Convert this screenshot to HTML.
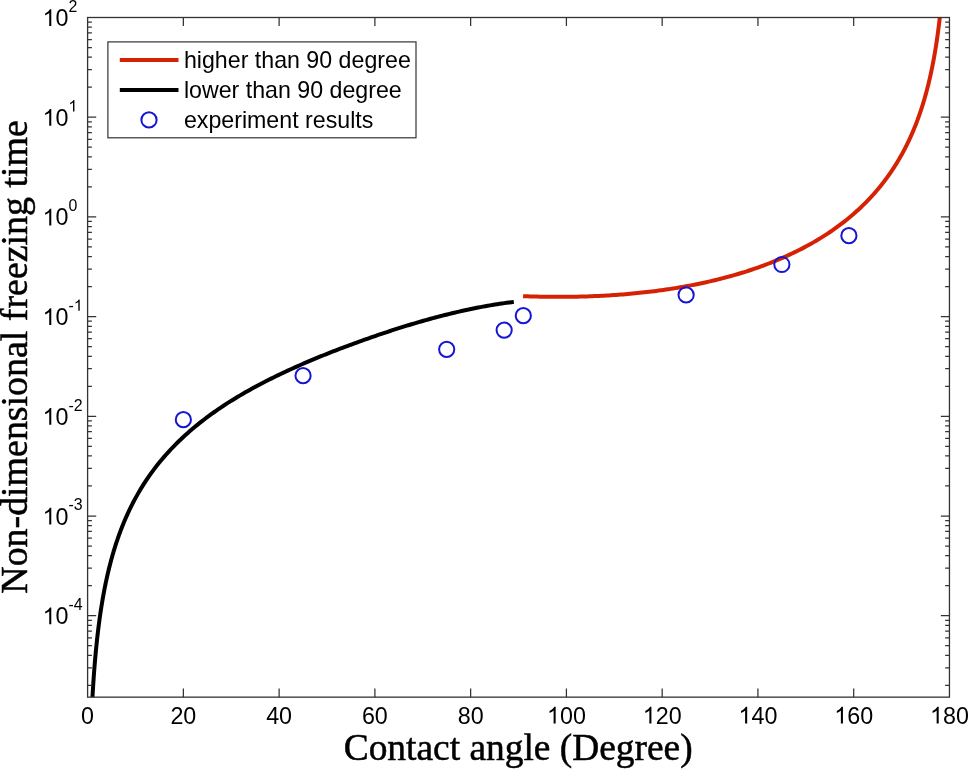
<!DOCTYPE html>
<html><head><meta charset="utf-8"><title>Freezing time vs contact angle</title>
<style>html,body{margin:0;padding:0;background:#fff;overflow:hidden}svg{display:block;will-change:transform}</style></head>
<body>
<svg width="968" height="769" viewBox="0 0 968 769">
<rect width="968" height="769" fill="#fff"/>
<defs><clipPath id="c"><rect x="87.60" y="17.50" width="861.85" height="679.65"/></clipPath>
</defs>
<g clip-path="url(#c)" fill="none" stroke-linejoin="round">
<path d="M523.07,296.13 L525.45,296.22 L527.83,296.31 L530.21,296.38 L532.59,296.46 L534.97,296.52 L537.35,296.58 L539.73,296.64 L542.11,296.68 L544.49,296.72 L546.87,296.76 L549.25,296.79 L551.63,296.81 L554.01,296.83 L556.39,296.84 L558.77,296.85 L561.15,296.84 L563.53,296.83 L565.91,296.82 L568.29,296.80 L570.66,296.77 L573.04,296.74 L575.42,296.70 L577.80,296.65 L580.18,296.59 L582.56,296.53 L584.94,296.46 L587.32,296.39 L589.70,296.31 L592.08,296.22 L594.46,296.12 L596.84,296.02 L599.22,295.90 L601.60,295.79 L603.98,295.66 L606.36,295.53 L608.74,295.39 L611.12,295.24 L613.50,295.08 L615.88,294.92 L618.26,294.75 L620.64,294.57 L623.02,294.39 L625.40,294.19 L627.77,293.99 L630.15,293.78 L632.53,293.56 L634.91,293.33 L637.29,293.10 L639.67,292.85 L642.05,292.60 L644.43,292.34 L646.81,292.07 L649.19,291.79 L651.57,291.50 L653.95,291.21 L656.33,290.90 L658.71,290.58 L661.09,290.26 L663.47,289.93 L665.85,289.58 L668.23,289.23 L670.61,288.87 L672.99,288.50 L675.37,288.11 L677.75,287.72 L680.13,287.32 L682.50,286.91 L684.88,286.48 L687.26,286.05 L689.64,285.61 L692.02,285.15 L694.40,284.68 L696.78,284.21 L699.16,283.72 L701.54,283.22 L703.92,282.71 L706.30,282.18 L708.68,281.65 L711.06,281.10 L713.44,280.54 L715.82,279.97 L718.20,279.38 L720.58,278.78 L722.96,278.17 L725.34,277.55 L727.72,276.91 L730.10,276.26 L732.48,275.59 L734.86,274.91 L737.23,274.22 L739.61,273.51 L741.99,272.78 L744.37,272.04 L746.75,271.29 L749.13,270.52 L751.51,269.73 L753.89,268.93 L756.27,268.11 L758.65,267.27 L761.03,266.42 L763.41,265.55 L765.79,264.66 L768.17,263.75 L770.55,262.82 L772.93,261.88 L775.31,260.91 L777.69,259.93 L780.07,258.92 L782.45,257.89 L784.83,256.84 L787.21,255.77 L789.59,254.68 L791.96,253.56 L794.34,252.42 L796.72,251.26 L799.10,250.07 L801.48,248.86 L803.86,247.61 L806.24,246.35 L808.62,245.05 L811.00,243.72 L813.38,242.37 L815.76,240.98 L818.14,239.57 L820.52,238.12 L822.90,236.64 L825.28,235.12 L827.66,233.57 L830.04,231.98 L832.42,230.35 L834.80,228.68 L837.18,226.97 L839.56,225.22 L841.94,223.43 L844.32,221.58 L846.69,219.69 L849.07,217.75 L851.45,215.76 L853.83,213.71 L856.21,211.61 L858.59,209.44 L860.97,207.22 L863.35,204.92 L865.73,202.56 L868.11,200.12 L870.49,197.61 L872.87,195.01 L875.25,192.33 L877.63,189.56 L877.92,189.21 L878.21,188.86 L878.50,188.52 L878.79,188.17 L879.08,187.81 L879.37,187.46 L879.66,187.11 L879.96,186.75 L880.25,186.39 L880.54,186.03 L880.83,185.67 L881.12,185.31 L881.41,184.95 L881.70,184.58 L881.99,184.21 L882.28,183.84 L882.57,183.47 L882.86,183.10 L883.15,182.73 L883.44,182.35 L883.74,181.97 L884.03,181.59 L884.32,181.21 L884.61,180.83 L884.90,180.45 L885.19,180.06 L885.48,179.67 L885.77,179.28 L886.06,178.89 L886.35,178.50 L886.64,178.10 L886.93,177.70 L887.22,177.30 L887.52,176.90 L887.81,176.50 L888.10,176.10 L888.39,175.69 L888.68,175.28 L888.97,174.87 L889.26,174.46 L889.55,174.04 L889.84,173.62 L890.13,173.20 L890.42,172.78 L890.71,172.36 L891.01,171.93 L891.30,171.51 L891.59,171.08 L891.88,170.64 L892.17,170.21 L892.46,169.77 L892.75,169.33 L893.04,168.89 L893.33,168.45 L893.62,168.00 L893.91,167.55 L894.20,167.10 L894.49,166.65 L894.79,166.20 L895.08,165.74 L895.37,165.28 L895.66,164.81 L895.95,164.35 L896.24,163.88 L896.53,163.41 L896.82,162.94 L897.11,162.46 L897.40,161.98 L897.69,161.50 L897.98,161.02 L898.27,160.53 L898.57,160.04 L898.86,159.55 L899.15,159.05 L899.44,158.55 L899.73,158.05 L900.02,157.55 L900.31,157.04 L900.60,156.53 L900.89,156.02 L901.18,155.50 L901.47,154.98 L901.76,154.46 L902.05,153.93 L902.35,153.40 L902.64,152.87 L902.93,152.33 L903.22,151.79 L903.51,151.25 L903.80,150.71 L904.09,150.16 L904.38,149.60 L904.67,149.05 L904.96,148.49 L905.25,147.92 L905.54,147.35 L905.83,146.78 L906.13,146.21 L906.42,145.63 L906.71,145.04 L907.00,144.46 L907.29,143.87 L907.58,143.27 L907.87,142.67 L908.16,142.07 L908.45,141.46 L908.74,140.85 L909.03,140.23 L909.32,139.61 L909.62,138.98 L909.91,138.35 L910.20,137.72 L910.49,137.08 L910.78,136.43 L911.07,135.78 L911.36,135.13 L911.65,134.47 L911.94,133.81 L912.23,133.14 L912.52,132.46 L912.81,131.78 L913.10,131.10 L913.40,130.41 L913.69,129.71 L913.98,129.01 L914.27,128.30 L914.56,127.59 L914.85,126.87 L915.14,126.14 L915.43,125.41 L915.72,124.67 L916.01,123.93 L916.30,123.17 L916.59,122.42 L916.88,121.65 L917.18,120.88 L917.47,120.10 L917.76,119.32 L918.05,118.53 L918.34,117.73 L918.63,116.92 L918.92,116.11 L919.21,115.28 L919.50,114.45 L919.79,113.61 L920.08,112.77 L920.37,111.91 L920.66,111.05 L920.96,110.18 L921.25,109.30 L921.54,108.41 L921.83,107.51 L922.12,106.60 L922.41,105.68 L922.70,104.75 L922.99,103.81 L923.28,102.87 L923.57,101.91 L923.86,100.94 L924.15,99.96 L924.44,98.96 L924.74,97.96 L925.03,96.94 L925.32,95.92 L925.61,94.88 L925.90,93.82 L926.19,92.76 L926.48,91.68 L926.77,90.59 L927.06,89.48 L927.35,88.36 L927.64,87.23 L927.93,86.07 L928.23,84.91 L928.52,83.73 L928.81,82.53 L929.10,81.31 L929.39,80.08 L929.68,78.83 L929.97,77.56 L930.26,76.27 L930.55,74.96 L930.84,73.64 L931.13,72.29 L931.42,70.92 L931.71,69.53 L932.01,68.11 L932.30,66.67 L932.59,65.21 L932.88,63.72 L933.17,62.21 L933.46,60.67 L933.75,59.10 L934.04,57.50 L934.33,55.87 L934.62,54.21 L934.91,52.52 L935.20,50.79 L935.49,49.03 L935.79,47.23 L936.08,45.39 L936.37,43.51 L936.66,41.59 L936.95,39.63 L937.24,37.62 L937.53,35.56 L937.82,33.45 L938.11,31.29 L938.40,29.07 L938.69,26.80 L938.98,24.46 L939.27,22.04 L939.57,19.53 L939.86,16.95 L940.15,14.28 L940.44,11.53 L940.73,8.69 L941.02,5.75 L941.31,2.71" stroke="#d62204" stroke-width="4"/>
<path d="M90.47,742.79 L90.80,733.54 L91.12,725.18 L91.44,717.57 L91.77,710.56 L92.09,704.08 L92.42,698.06 L92.74,692.42 L93.06,687.12 L93.39,682.13 L93.71,677.41 L94.03,672.94 L94.36,668.68 L94.68,664.62 L95.01,660.75 L95.33,657.04 L95.65,653.48 L95.98,650.06 L96.30,646.77 L96.62,643.60 L96.95,640.54 L97.27,637.58 L97.60,634.73 L97.92,631.96 L98.24,629.28 L98.57,626.68 L98.89,624.15 L99.22,621.69 L99.54,619.31 L99.86,616.98 L100.19,614.72 L100.51,612.51 L100.83,610.36 L101.16,608.26 L101.48,606.21 L101.81,604.20 L102.13,602.24 L102.45,600.33 L102.78,598.45 L103.10,596.62 L103.42,594.82 L103.75,593.06 L104.07,591.33 L104.40,589.64 L104.72,587.98 L105.04,586.34 L105.37,584.74 L105.69,583.17 L106.02,581.63 L106.34,580.11 L106.66,578.62 L106.99,577.15 L107.31,575.71 L107.63,574.29 L107.96,572.89 L108.28,571.52 L108.61,570.17 L108.93,568.83 L109.25,567.52 L109.58,566.23 L109.90,564.95 L110.22,563.70 L110.55,562.46 L110.87,561.24 L111.20,560.03 L111.52,558.84 L111.84,557.67 L112.17,556.51 L112.49,555.37 L112.81,554.24 L113.14,553.13 L113.46,552.03 L113.79,550.94 L114.11,549.87 L114.43,548.81 L114.76,547.77 L115.08,546.73 L115.41,545.71 L115.73,544.70 L116.05,543.70 L116.38,542.71 L116.70,541.73 L117.02,540.76 L117.35,539.81 L117.67,538.86 L118.00,537.93 L118.32,537.00 L118.64,536.08 L118.97,535.18 L119.29,534.28 L119.61,533.39 L119.94,532.51 L120.26,531.64 L120.59,530.78 L120.91,529.92 L121.23,529.08 L121.56,528.24 L121.88,527.41 L122.20,526.59 L122.53,525.77 L122.85,524.96 L123.18,524.16 L123.50,523.37 L123.82,522.58 L124.15,521.80 L124.47,521.03 L124.80,520.27 L125.12,519.51 L125.44,518.76 L125.77,518.01 L126.09,517.27 L126.41,516.54 L126.74,515.81 L127.06,515.09 L127.39,514.37 L127.71,513.66 L128.03,512.95 L128.36,512.26 L128.68,511.56 L129.00,510.87 L129.33,510.19 L129.65,509.51 L129.98,508.84 L130.30,508.17 L130.62,507.51 L130.95,506.85 L131.27,506.20 L131.59,505.55 L131.92,504.91 L132.24,504.27 L132.57,503.63 L132.89,503.01 L133.21,502.38 L133.54,501.76 L133.86,501.14 L134.19,500.53 L134.51,499.92 L134.83,499.32 L135.16,498.72 L135.48,498.12 L137.86,493.86 L140.24,489.79 L142.62,485.91 L145.00,482.18 L147.38,478.60 L149.76,475.16 L152.14,471.85 L154.52,468.66 L156.90,465.57 L159.28,462.59 L161.66,459.71 L164.04,456.91 L166.42,454.20 L168.79,451.57 L171.17,449.01 L173.55,446.53 L175.93,444.11 L178.31,441.75 L180.69,439.45 L183.07,437.22 L185.45,435.03 L187.83,432.90 L190.21,430.82 L192.59,428.78 L194.97,426.79 L197.35,424.84 L199.73,422.93 L202.11,421.06 L204.49,419.23 L206.87,417.44 L209.25,415.67 L211.63,413.95 L214.01,412.25 L216.39,410.58 L218.77,408.95 L221.15,407.34 L223.52,405.76 L225.90,404.20 L228.28,402.67 L230.66,401.17 L233.04,399.69 L235.42,398.23 L237.80,396.79 L240.18,395.38 L242.56,393.98 L244.94,392.60 L247.32,391.25 L249.70,389.91 L252.08,388.59 L254.46,387.29 L256.84,386.00 L259.22,384.73 L261.60,383.48 L263.98,382.24 L266.36,381.02 L268.74,379.81 L271.12,378.62 L273.50,377.44 L275.88,376.27 L278.25,375.12 L280.63,373.97 L283.01,372.85 L285.39,371.73 L287.77,370.62 L290.15,369.53 L292.53,368.45 L294.91,367.37 L297.29,366.31 L299.67,365.26 L302.05,364.22 L304.43,363.19 L306.81,362.16 L309.19,361.15 L311.57,360.15 L313.95,359.15 L316.33,358.17 L318.71,357.19 L321.09,356.22 L323.47,355.26 L325.85,354.30 L328.23,353.35 L330.61,352.42 L332.99,351.48 L335.36,350.56 L337.74,349.64 L340.12,348.73 L342.50,347.83 L344.88,346.93 L347.26,346.04 L349.64,345.15 L352.02,344.27 L354.40,343.40 L356.78,342.53 L359.16,341.67 L361.54,340.82 L363.92,339.96 L366.30,339.12 L368.68,338.28 L371.06,337.45 L373.44,336.62 L375.82,335.80 L378.20,334.98 L380.58,334.17 L382.96,333.37 L385.34,332.57 L387.72,331.78 L390.09,331.00 L392.47,330.22 L394.85,329.45 L397.23,328.69 L399.61,327.93 L401.99,327.18 L404.37,326.44 L406.75,325.71 L409.13,324.98 L411.51,324.26 L413.89,323.55 L416.27,322.85 L418.65,322.15 L421.03,321.46 L423.41,320.78 L425.79,320.11 L428.17,319.45 L430.55,318.79 L432.93,318.15 L435.31,317.51 L437.69,316.88 L440.07,316.26 L442.45,315.65 L444.83,315.05 L447.20,314.45 L449.58,313.87 L451.96,313.29 L454.34,312.72 L456.72,312.16 L459.10,311.61 L461.48,311.07 L463.86,310.54 L466.24,310.02 L468.62,309.51 L471.00,309.00 L473.38,308.51 L475.76,308.03 L478.14,307.56 L480.52,307.10 L482.90,306.65 L485.28,306.21 L487.66,305.78 L490.04,305.36 L492.42,304.96 L494.80,304.57 L497.18,304.18 L499.56,303.82 L501.93,303.46 L504.31,303.12 L506.69,302.79 L509.07,302.47 L511.45,302.16 L513.83,301.87" stroke="#000" stroke-width="4"/>
</g>
<path d="M183.36,697.15v-8.60M183.36,17.50v8.60M279.12,697.15v-8.60M279.12,17.50v8.60M374.88,697.15v-8.60M374.88,17.50v8.60M470.64,697.15v-8.60M470.64,17.50v8.60M566.41,697.15v-8.60M566.41,17.50v8.60M662.17,697.15v-8.60M662.17,17.50v8.60M757.93,697.15v-8.60M757.93,17.50v8.60M853.69,697.15v-8.60M853.69,17.50v8.60M87.60,685.39h4.30M949.45,685.39h-4.30M87.60,667.83h4.30M949.45,667.83h-4.30M87.60,655.37h4.30M949.45,655.37h-4.30M87.60,645.71h4.30M949.45,645.71h-4.30M87.60,637.82h4.30M949.45,637.82h-4.30M87.60,631.14h4.30M949.45,631.14h-4.30M87.60,625.36h4.30M949.45,625.36h-4.30M87.60,620.26h4.30M949.45,620.26h-4.30M87.60,615.70h8.60M949.45,615.70h-8.60M87.60,585.69h4.30M949.45,585.69h-4.30M87.60,568.13h4.30M949.45,568.13h-4.30M87.60,555.67h4.30M949.45,555.67h-4.30M87.60,546.01h4.30M949.45,546.01h-4.30M87.60,538.12h4.30M949.45,538.12h-4.30M87.60,531.44h4.30M949.45,531.44h-4.30M87.60,525.66h4.30M949.45,525.66h-4.30M87.60,520.56h4.30M949.45,520.56h-4.30M87.60,516.00h8.60M949.45,516.00h-8.60M87.60,485.99h4.30M949.45,485.99h-4.30M87.60,468.43h4.30M949.45,468.43h-4.30M87.60,455.97h4.30M949.45,455.97h-4.30M87.60,446.31h4.30M949.45,446.31h-4.30M87.60,438.42h4.30M949.45,438.42h-4.30M87.60,431.74h4.30M949.45,431.74h-4.30M87.60,425.96h4.30M949.45,425.96h-4.30M87.60,420.86h4.30M949.45,420.86h-4.30M87.60,416.30h8.60M949.45,416.30h-8.60M87.60,386.29h4.30M949.45,386.29h-4.30M87.60,368.73h4.30M949.45,368.73h-4.30M87.60,356.27h4.30M949.45,356.27h-4.30M87.60,346.61h4.30M949.45,346.61h-4.30M87.60,338.72h4.30M949.45,338.72h-4.30M87.60,332.04h4.30M949.45,332.04h-4.30M87.60,326.26h4.30M949.45,326.26h-4.30M87.60,321.16h4.30M949.45,321.16h-4.30M87.60,316.60h8.60M949.45,316.60h-8.60M87.60,286.59h4.30M949.45,286.59h-4.30M87.60,269.03h4.30M949.45,269.03h-4.30M87.60,256.57h4.30M949.45,256.57h-4.30M87.60,246.91h4.30M949.45,246.91h-4.30M87.60,239.02h4.30M949.45,239.02h-4.30M87.60,232.34h4.30M949.45,232.34h-4.30M87.60,226.56h4.30M949.45,226.56h-4.30M87.60,221.46h4.30M949.45,221.46h-4.30M87.60,216.90h8.60M949.45,216.90h-8.60M87.60,186.89h4.30M949.45,186.89h-4.30M87.60,169.33h4.30M949.45,169.33h-4.30M87.60,156.87h4.30M949.45,156.87h-4.30M87.60,147.21h4.30M949.45,147.21h-4.30M87.60,139.32h4.30M949.45,139.32h-4.30M87.60,132.64h4.30M949.45,132.64h-4.30M87.60,126.86h4.30M949.45,126.86h-4.30M87.60,121.76h4.30M949.45,121.76h-4.30M87.60,117.20h8.60M949.45,117.20h-8.60M87.60,87.19h4.30M949.45,87.19h-4.30M87.60,69.63h4.30M949.45,69.63h-4.30M87.60,57.17h4.30M949.45,57.17h-4.30M87.60,47.51h4.30M949.45,47.51h-4.30M87.60,39.62h4.30M949.45,39.62h-4.30M87.60,32.94h4.30M949.45,32.94h-4.30M87.60,27.16h4.30M949.45,27.16h-4.30M87.60,22.06h4.30M949.45,22.06h-4.30" stroke="#333333" stroke-width="1.25" fill="none"/>
<rect x="87.60" y="17.50" width="861.85" height="679.65" fill="none" stroke="#333333" stroke-width="1.3"/>
<circle cx="183.36" cy="419.70" r="7.6" fill="none" stroke="#1515d2" stroke-width="2.0"/>
<circle cx="303.06" cy="375.70" r="7.6" fill="none" stroke="#1515d2" stroke-width="2.0"/>
<circle cx="446.70" cy="349.30" r="7.6" fill="none" stroke="#1515d2" stroke-width="2.0"/>
<circle cx="504.16" cy="330.10" r="7.6" fill="none" stroke="#1515d2" stroke-width="2.0"/>
<circle cx="523.31" cy="315.70" r="7.6" fill="none" stroke="#1515d2" stroke-width="2.0"/>
<circle cx="686.11" cy="294.90" r="7.6" fill="none" stroke="#1515d2" stroke-width="2.0"/>
<circle cx="781.87" cy="264.50" r="7.6" fill="none" stroke="#1515d2" stroke-width="2.0"/>
<circle cx="848.90" cy="235.70" r="7.6" fill="none" stroke="#1515d2" stroke-width="2.0"/>
<g font-family="Liberation Sans, sans-serif" fill="#000">
<text x="81.12" y="723.60" font-size="23.3">0</text>
<text x="170.40" y="723.60" font-size="23.3">20</text>
<text x="266.16" y="723.60" font-size="23.3">40</text>
<text x="361.92" y="723.60" font-size="23.3">60</text>
<text x="457.68" y="723.60" font-size="23.3">80</text>
<path d="M763 0H583V1147Q518 1085 412.5 1023T223 930V1104Q374 1175 487 1276T647 1472H763Z" transform="translate(546.97,723.60) scale(0.01138,-0.01138)"/><text x="559.93" y="723.60" font-size="23.3">00</text>
<path d="M763 0H583V1147Q518 1085 412.5 1023T223 930V1104Q374 1175 487 1276T647 1472H763Z" transform="translate(642.73,723.60) scale(0.01138,-0.01138)"/><text x="655.69" y="723.60" font-size="23.3">20</text>
<path d="M763 0H583V1147Q518 1085 412.5 1023T223 930V1104Q374 1175 487 1276T647 1472H763Z" transform="translate(738.49,723.60) scale(0.01138,-0.01138)"/><text x="751.45" y="723.60" font-size="23.3">40</text>
<path d="M763 0H583V1147Q518 1085 412.5 1023T223 930V1104Q374 1175 487 1276T647 1472H763Z" transform="translate(834.25,723.60) scale(0.01138,-0.01138)"/><text x="847.21" y="723.60" font-size="23.3">60</text>
<path d="M763 0H583V1147Q518 1085 412.5 1023T223 930V1104Q374 1175 487 1276T647 1472H763Z" transform="translate(930.01,723.60) scale(0.01138,-0.01138)"/><text x="942.97" y="723.60" font-size="23.3">80</text>
<path d="M763 0H583V1147Q518 1085 412.5 1023T223 930V1104Q374 1175 487 1276T647 1472H763Z" transform="translate(42.60,624.20) scale(0.01138,-0.01138)"/><text x="55.56" y="624.20" font-size="23.3">0</text>
<text x="68.50" y="609.90" font-size="15.9">-4</text>
<path d="M763 0H583V1147Q518 1085 412.5 1023T223 930V1104Q374 1175 487 1276T647 1472H763Z" transform="translate(42.60,524.50) scale(0.01138,-0.01138)"/><text x="55.56" y="524.50" font-size="23.3">0</text>
<text x="68.50" y="510.20" font-size="15.9">-3</text>
<path d="M763 0H583V1147Q518 1085 412.5 1023T223 930V1104Q374 1175 487 1276T647 1472H763Z" transform="translate(42.60,424.80) scale(0.01138,-0.01138)"/><text x="55.56" y="424.80" font-size="23.3">0</text>
<text x="68.50" y="410.50" font-size="15.9">-2</text>
<path d="M763 0H583V1147Q518 1085 412.5 1023T223 930V1104Q374 1175 487 1276T647 1472H763Z" transform="translate(42.60,325.10) scale(0.01138,-0.01138)"/><text x="55.56" y="325.10" font-size="23.3">0</text>
<text x="68.50" y="310.80" font-size="15.9">-</text><path d="M763 0H583V1147Q518 1085 412.5 1023T223 930V1104Q374 1175 487 1276T647 1472H763Z" transform="translate(73.79,310.80) scale(0.00776,-0.00776)"/>
<path d="M763 0H583V1147Q518 1085 412.5 1023T223 930V1104Q374 1175 487 1276T647 1472H763Z" transform="translate(42.60,225.40) scale(0.01138,-0.01138)"/><text x="55.56" y="225.40" font-size="23.3">0</text>
<text x="68.50" y="211.10" font-size="15.9">0</text>
<path d="M763 0H583V1147Q518 1085 412.5 1023T223 930V1104Q374 1175 487 1276T647 1472H763Z" transform="translate(42.60,125.70) scale(0.01138,-0.01138)"/><text x="55.56" y="125.70" font-size="23.3">0</text>
<path d="M763 0H583V1147Q518 1085 412.5 1023T223 930V1104Q374 1175 487 1276T647 1472H763Z" transform="translate(68.50,111.40) scale(0.00776,-0.00776)"/>
<path d="M763 0H583V1147Q518 1085 412.5 1023T223 930V1104Q374 1175 487 1276T647 1472H763Z" transform="translate(42.60,26.00) scale(0.01138,-0.01138)"/><text x="55.56" y="26.00" font-size="23.3">0</text>
<text x="68.50" y="11.70" font-size="15.9">2</text>
</g>
<rect x="107.9" y="41.9" width="308.1" height="95.9" fill="#fff" stroke="#333333" stroke-width="1.2"/>
<path d="M119.8,59.9H178.5" stroke="#d62204" stroke-width="4"/>
<path d="M119.8,90.1H178.5" stroke="#000" stroke-width="4"/>
<circle cx="149" cy="119.9" r="7.6" fill="none" stroke="#1515d2" stroke-width="2.0"/>
<g font-family="Liberation Sans, sans-serif" fill="#000" font-size="23.2">
<text id="l1" x="183.9" y="67.5">higher than 90 degree</text>
<text id="l2" x="183.9" y="98.0">lower than 90 degree</text>
<text id="l3" x="183.9" y="127.7">experiment results</text>
</g>
<g font-family="Liberation Serif, serif" fill="#000" stroke="#000" stroke-width="0.5" font-size="37.5">
<text id="xl" x="518.2" y="759.9" text-anchor="middle" textLength="349" lengthAdjust="spacingAndGlyphs">Contact angle (Degree)</text>
<text id="yl" transform="translate(26.8,357) rotate(-90)" text-anchor="middle" textLength="473.5" lengthAdjust="spacingAndGlyphs">Non-dimensional freezing time</text>
</g>
</svg>
</body></html>
